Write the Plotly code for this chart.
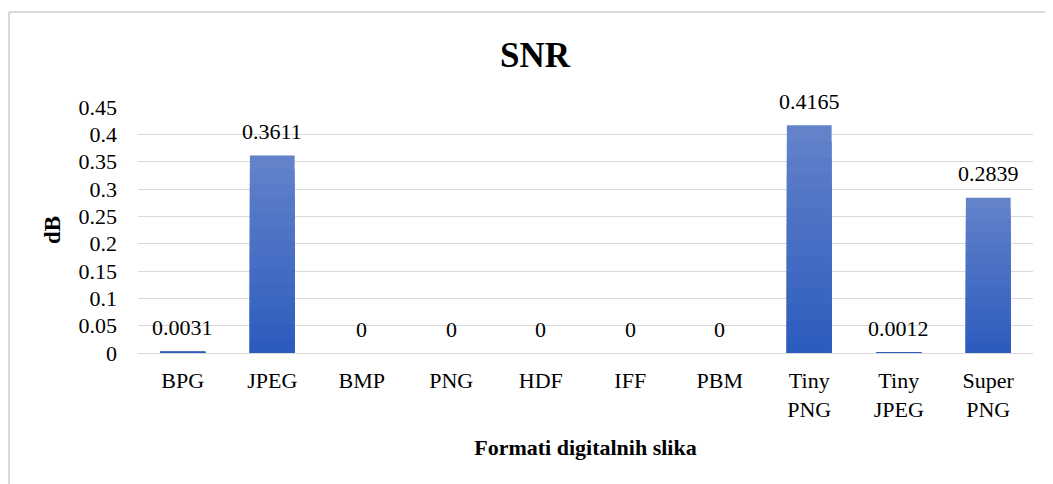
import plotly.graph_objects as go

categories = ["BPG", "JPEG", "BMP", "PNG", "HDF", "IFF", "PBM", "Tiny<br>PNG", "Tiny<br>JPEG", "Super<br>PNG"]
snr_values = [0.0031, 0.3611, 0, 0, 0, 0, 0, 0.4165, 0.0012, 0.2839]
value_labels = ["0.0031", "0.3611", "0", "0", "0", "0", "0", "0.4165", "0.0012", "0.2839"]
y_ticks = [0, 0.05, 0.1, 0.15, 0.2, 0.25, 0.3, 0.35, 0.4, 0.45]
y_tick_labels = ["0", "0.05", "0.1", "0.15", "0.2", "0.25", "0.3", "0.35", "0.4", "0.45"]

FONT = "Liberation Serif, Times New Roman, serif"

# figure is offset by the page's 8px body margin
W, H = 1045, 476
ML, MR, MT, MB = 130, 20, 99, 131
PW, PH = W - ML - MR, H - MT - MB

fig = go.Figure()

# gradient simulation: overlaid bars, lighter at top, darker at bottom
steps = 14
top_rgb = (98, 130, 202)
bot_rgb = (46, 92, 190)
for i in range(steps):
    frac = 1 - i / steps
    t = i / (steps - 1)
    c = tuple(round(top_rgb[k] + (bot_rgb[k] - top_rgb[k]) * t) for k in range(3))
    fig.add_trace(go.Bar(
        x=categories,
        y=[v * frac for v in snr_values],
        marker=dict(color="rgb(%d,%d,%d)" % c, line=dict(width=0)),
        showlegend=False,
        hoverinfo="skip",
    ))

# data labels above bars
for cat, val, lab in zip(categories, snr_values, value_labels):
    fig.add_annotation(
        x=cat, y=val, text=lab, showarrow=False,
        xanchor="center", yanchor="middle", yshift=24,
        font=dict(family=FONT, size=22, color="#000000"),
    )

border_y = (H - MB - 4) / PH
border_x = (1 - ML) / PW

fig.update_layout(
    barmode="overlay",
    bargap=0.5,
    width=W,
    height=H,
    paper_bgcolor="white",
    plot_bgcolor="white",
    margin=dict(l=ML, r=MR, t=MT, b=MB),
    title=dict(text="<b>SNR</b>", x=527 / W, xanchor="center", y=1 - 47 / H, yanchor="middle",
               font=dict(family=FONT, size=35, color="#000000")),
    font=dict(family=FONT, size=22, color="#000000"),
    shapes=[
        dict(type="line", xref="paper", yref="paper", x0=border_x, x1=1.1, y0=border_y, y1=border_y,
             line=dict(color="#d9d9d9", width=2)),
        dict(type="line", xref="paper", yref="paper", x0=border_x, x1=border_x, y0=border_y, y1=-1,
             line=dict(color="#d9d9d9", width=2)),
    ],
)

fig.update_xaxes(
    showgrid=False,
    showline=True,
    linecolor="#d9d9d9",
    linewidth=1,
    ticks="",
    ticklabelstandoff=8,
    tickfont=dict(family=FONT, size=22, color="#000000"),
    title=dict(text="<b>Formati digitalnih slika</b>", font=dict(family=FONT, size=22, color="#000000"), standoff=18),
)
fig.update_yaxes(
    range=[0, 0.45],
    tickvals=y_ticks,
    ticktext=y_tick_labels,
    showgrid=True,
    gridcolor="#d9d9d9",
    gridwidth=1,
    zeroline=False,
    ticks="",
    ticklabelstandoff=20,
    tickfont=dict(family=FONT, size=22, color="#000000"),
    title=dict(text="<b>dB</b>", font=dict(family=FONT, size=23, color="#000000"), standoff=11),
)

fig.write_html("out.html")
